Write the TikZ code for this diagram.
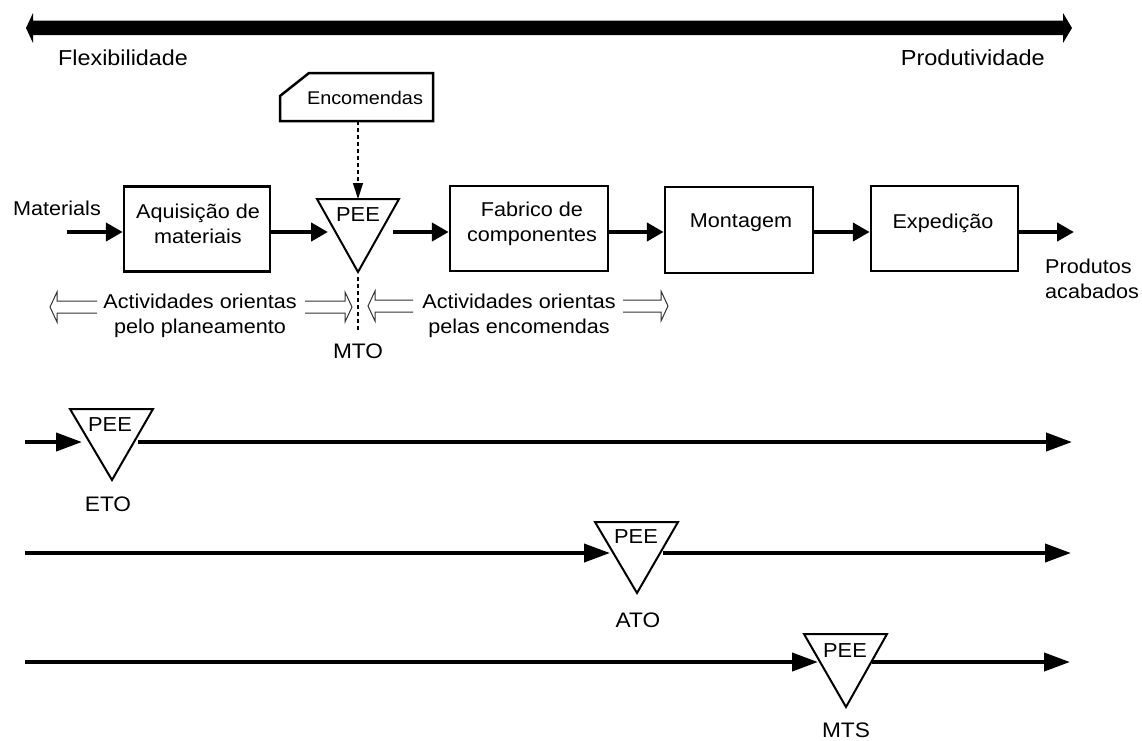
\documentclass[tikz,border=0pt]{standalone}
\usepackage{fontspec}
\setmainfont{Liberation Sans}[FakeStretch=1.08]
\usetikzlibrary{arrows.meta}
\begin{document}
\begin{tikzpicture}[x=1pt,y=-1pt,
  box/.style={draw,line width=2.5pt,inner sep=0pt},
  txt/.style={font=\fontsize{20}{25}\selectfont,align=center,inner sep=0pt},
  flow/.style={line width=4.5pt,-{Triangle[length=17pt,width=18pt]}},
  rowflow/.style={line width=4pt,-{Triangle[length=26pt,width=18pt]}},
  tri/.style={line width=2pt,line join=miter},
  dashline/.style={line width=1.3pt,dash pattern=on 4pt off 3pt},
  hollow/.style={line width=1pt,draw=black!80},
  pee/.style={font=\fontsize{20.2}{22}\selectfont,inner sep=0pt},
  tag/.style={font=\fontsize{21}{24}\selectfont,inner sep=0pt},
]
\useasboundingbox (0,0) rectangle (1142,740);

% scale from flexibility to productivity
\fill (26,28) -- (33,13) -- (33,20.7) -- (1063,20.7) -- (1063,13) -- (1072,28)
  -- (1063,43) -- (1063,35) -- (33,35) -- (33,43) -- cycle;
\node[font=\fontsize{21.6}{24}\selectfont,inner sep=0pt,anchor=base west] (flex) at (58,65.5) {Flexibilidade};
\node[font=\fontsize{21.8}{24}\selectfont,inner sep=0pt,anchor=base east] (prod) at (1045,65) {Produtividade};

% orders document
\draw[line width=2.5pt,line join=miter] (280,96) -- (309,73) -- (433,73) -- (433,121) -- (280,121) -- cycle;
\node[font=\fontsize{18.4}{20}\selectfont,inner sep=0pt] (enc) at (365,98) {Encomendas};
\coordinate (enc-b) at (358,121);

% process boxes
\node[box,minimum width=146pt,minimum height=85pt] (aq) at (197,229) {};
\node[txt] (aq-t) at (198,224) {Aquisição de\\materiais};
\node[box,minimum width=158pt,minimum height=85pt] (fab) at (529,228.5) {};
\node[txt] (fab-t) at (532,224) {Fabrico de\\componentes};
\node[box,minimum width=148pt,minimum height=86pt] (mon) at (739,230) {};
\node[txt] (mon-t) at (741,223) {Montagem};
\node[box,minimum width=147pt,minimum height=85pt] (exp) at (944.5,228.5) {};
\node[txt] (exp-t) at (943,223) {Expedição};

% decoupling point (MTO)
\draw[tri] (317,199) -- (399,199) -- (358,272) -- cycle;
\node[pee] (mto-pee) at (358,215) {PEE};
\coordinate (mto-top) at (358,199);
\coordinate (mto-bot) at (358,277);
\coordinate (mto-end) at (358,332);
\draw[dashline,-{Triangle[length=16pt,width=10pt]}] (enc-b) -- (mto-top);
\draw[dashline] (mto-bot) -- (mto-end);
\node[tag] (mto) at (358,351.5) {MTO};

% material flow
\coordinate (matin) at (67,232);
\coordinate (mto-in) at (328,232);
\coordinate (mto-out) at (393,232);
\coordinate (prodout) at (1074,232);
\node[txt,anchor=base west] (mat) at (13,215) {Materials};
\draw[flow] (matin) -- (aq.west |- matin);
\draw[flow] (aq.east |- matin) -- (mto-in);
\draw[flow] (mto-out) -- (fab.west |- matin);
\draw[flow] (fab.east |- matin) -- (mon.west |- matin);
\draw[flow] (mon.east |- matin) -- (exp.west |- matin);
\draw[flow] (exp.east |- matin) -- (prodout);
\node[txt,align=left,anchor=west] (pa) at (1045,279) {Produtos\\acabados};

% activity ranges (hollow arrows)
\newcommand\hollowR[3]{\draw[hollow] (#1,#3-6) -- (#2-7,#3-6) -- (#2-7,#3-15) -- (#2,#3) -- (#2-7,#3+15) -- (#2-7,#3+6) -- (#1,#3+6);}
\newcommand\hollowL[3]{\draw[hollow] (#2,#3-6) -- (#1+7,#3-6) -- (#1+7,#3-15) -- (#1,#3) -- (#1+7,#3+15) -- (#1+7,#3+6) -- (#2,#3+6);}
\hollowL{50}{97}{307}
\hollowR{305}{352}{307}
\hollowL{368}{413}{306}
\hollowR{623}{668}{306}
\node[txt] (plan) at (200,316) {Actividades orientas\\pelo planeamento};
\node[txt] (ord) at (519,316) {Actividades orientas\\pelas encomendas};

% ETO
\draw[tri] (70,409) -- (153,409) -- (112,480) -- cycle;
\node[pee] (eto-pee) at (110,425) {PEE};
\node[tag] (eto) at (108,504.5) {ETO};
\coordinate (eto-s) at (25,442);
\coordinate (eto-in) at (82,442);
\coordinate (eto-out) at (138,442);
\coordinate (eto-e) at (1072,442);
\draw[rowflow] (eto-s) -- (eto-in);
\draw[rowflow] (eto-out) -- (eto-e);

% ATO
\draw[tri] (595,522) -- (678,522) -- (637,593) -- cycle;
\node[pee] (ato-pee) at (636,537) {PEE};
\node[tag] (ato) at (638,620) {ATO};
\coordinate (ato-s) at (25,553);
\coordinate (ato-in) at (610,553);
\coordinate (ato-out) at (663,553);
\coordinate (ato-e) at (1071,553);
\draw[rowflow] (ato-s) -- (ato-in);
\draw[rowflow] (ato-out) -- (ato-e);

% MTS
\draw[tri] (804,634) -- (887,634) -- (846,707) -- cycle;
\node[pee] (mts-pee) at (845,650.5) {PEE};
\node[tag] (mts) at (846,730) {MTS};
\coordinate (mts-s) at (25,662);
\coordinate (mts-in) at (818,662);
\coordinate (mts-out) at (872,662);
\coordinate (mts-e) at (1070,662);
\draw[rowflow] (mts-s) -- (mts-in);
\draw[rowflow] (mts-out) -- (mts-e);
\end{tikzpicture}
\end{document}
